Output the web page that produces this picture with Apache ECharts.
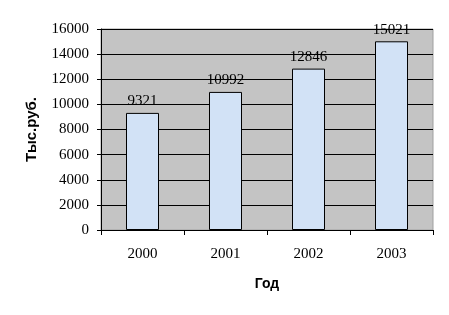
<!DOCTYPE html>
<html><head><meta charset="utf-8">
<script src="https://cdn.jsdelivr.net/npm/echarts@6/dist/echarts.min.js"></script>
<style>html,body{margin:0;padding:0;background:#fff}#c{width:449px;height:315px}</style>
</head><body><div id="c"></div>
<script>
const categories = ['2000', '2001', '2002', '2003'];
const values = [9321, 10992, 12846, 15021];
const yAxisName = 'Тыс.руб.';
const xAxisName = 'Год';

const chart = echarts.init(document.getElementById('c'), null, {renderer: 'canvas'});
chart.setOption({
  animation: false,
  grid: {left: 101, right: 16, top: 29, bottom: 85, show: true, backgroundColor: '#c4c4c4', borderColor: '#a0a0a0', borderWidth: 1},
  xAxis: {
    type: 'category', data: categories,
    name: xAxisName, nameLocation: 'middle', nameGap: 47,
    nameTextStyle: {fontFamily: 'Liberation Sans', fontWeight: 'bold', fontSize: 14, color: '#000'},
    axisLine: {lineStyle: {color: '#000', width: 1}},
    axisTick: {show: true, alignWithLabel: false, length: 5, lineStyle: {color: '#000'}},
    axisLabel: {fontFamily: 'Liberation Serif', fontSize: 15, color: '#000', margin: 17}
  },
  yAxis: {
    type: 'value', min: 0, max: 16000, interval: 2000,
    name: yAxisName, nameLocation: 'middle', nameGap: 62, nameRotate: 90,
    nameTextStyle: {fontFamily: 'Liberation Sans', fontWeight: 'bold', fontSize: 15, color: '#000'},
    axisLine: {show: true, lineStyle: {color: '#000', width: 1}},
    axisTick: {show: true, length: 4, lineStyle: {color: '#000'}},
    axisLabel: {fontFamily: 'Liberation Serif', fontSize: 15, color: '#000', margin: 12, formatter: v => String(v)},
    splitLine: {show: true, lineStyle: {color: '#000', width: 1}}
  },
  series: [{
    type: 'bar', data: values, barWidth: 33,
    itemStyle: {color: '#d2e2f6', borderColor: '#000', borderWidth: 1},
    label: {show: true, position: 'top', distance: 4, fontFamily: 'Liberation Serif', fontSize: 15, color: '#000'}
  }]
});
</script></body></html>
